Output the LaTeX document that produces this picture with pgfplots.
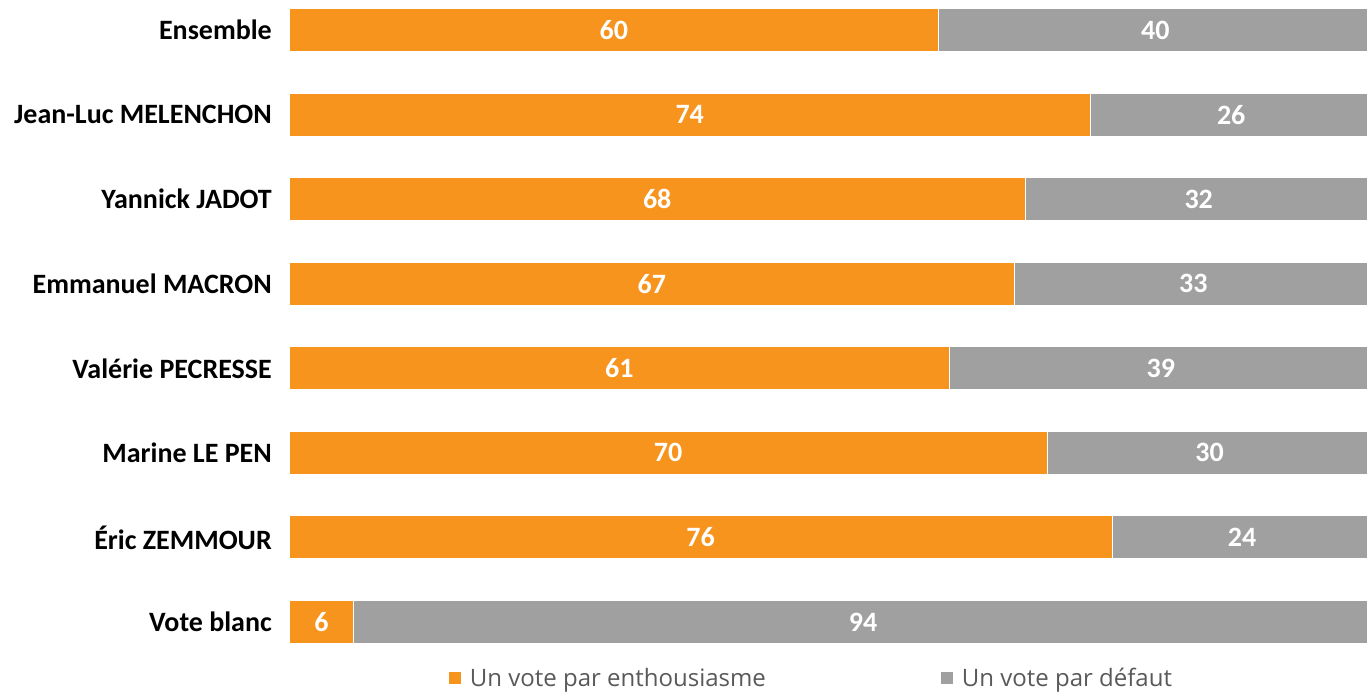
\documentclass[border=0pt]{standalone}
\usepackage{pgfplots}
\usepackage{pgfplotstable}
\pgfplotsset{compat=1.18}
\usepackage{fontspec}
\setmainfont{Carlito}
\newfontfamily\legfont{Open Sans}
\definecolor{orng}{HTML}{F7941D}
\definecolor{gry}{HTML}{A0A0A0}
\definecolor{legtext}{HTML}{595959}
\pgfplotstableread{
i o g
0 60 40
1 74 26
2 68 32
3 67 33
4 61 39
5 70 30
6 76 24
7 6 94
}\data
\begin{document}
\begin{tikzpicture}
\useasboundingbox (0pt,0pt) rectangle (1367pt,692pt);
\pgfplotsset{base/.style={
  scale only axis, width=1083pt, height=676.6pt,
  xmin=0, xmax=100, ymin=-0.5, ymax=7.5, y dir=reverse,
  at={(289pt,704.3pt)}, anchor=north west,
  axis line style={draw=none}, tick style={draw=none},
  xtick=\empty, clip=false}}
\begin{axis}[base, xbar stacked, bar width=43pt,
  ytick={0,...,7},
  yticklabels={Ensemble,Jean-Luc MELENCHON,Yannick JADOT,Emmanuel MACRON,Valérie PECRESSE,Marine LE PEN,Éric ZEMMOUR,Vote blanc},
  yticklabel style={font=\bfseries\fontsize{28}{32}\selectfont, anchor=east, inner sep=0pt, xshift=-17pt},
  legend columns=2,
  legend image code/.code={\fill[#1] (0pt,-6.5pt) rectangle (13pt,6.5pt);},
  legend style={at={(0.482,-0.0202)}, anchor=center, draw=none, fill=none,
    font=\legfont\fontsize{24}{28}\selectfont, text=legtext,
    /tikz/every odd column/.append style={column sep=6pt},
    /tikz/every even column/.append style={column sep=172pt}},
  ]
\addplot[fill=orng, draw=white, line width=1pt] table[x=o, y=i] {\data};
\addlegendentry{Un vote par enthousiasme}
\addplot[fill=gry, draw=white, line width=1pt] table[x=g, y=i] {\data};
\addlegendentry{Un vote par défaut}
\end{axis}
\begin{axis}[base, ytick=\empty,
  every node near coord/.append style={font=\bfseries\fontsize{28}{32}\selectfont, text=white, anchor=center},
  nodes near coords align=center]
\addplot[draw=none, mark=none, nodes near coords, point meta=explicit symbolic]
  table[x expr=\thisrow{o}/2, y=i, meta=o] {\data};
\addplot[draw=none, mark=none, nodes near coords, point meta=explicit symbolic]
  table[x expr=\thisrow{o}+\thisrow{g}/2, y=i, meta=g] {\data};
\end{axis}
\end{tikzpicture}
\end{document}
